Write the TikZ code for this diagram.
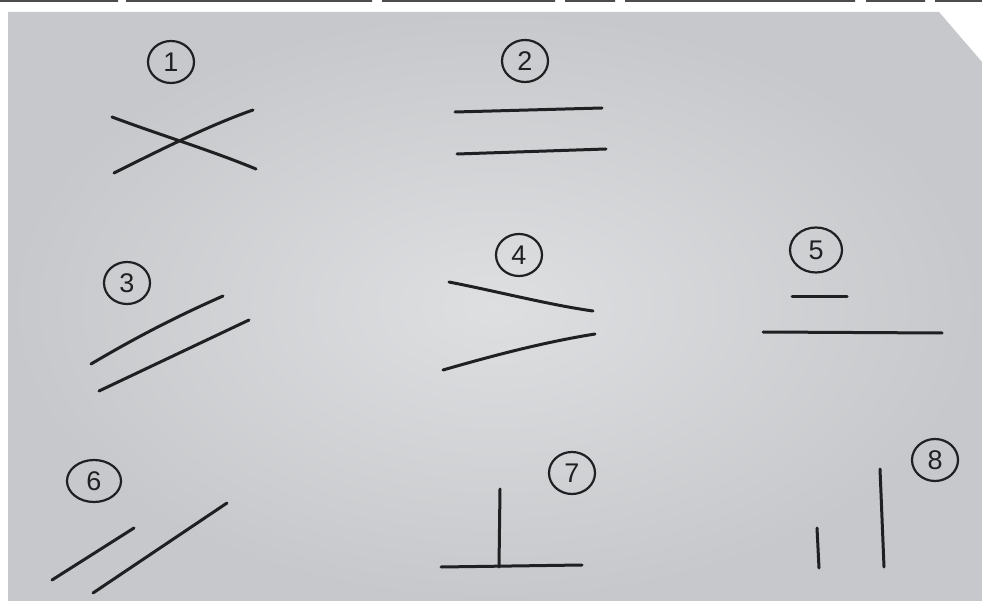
\documentclass[tikz,border=0pt]{standalone}
\usepackage{fontspec}
\setmainfont{Liberation Sans}
\usetikzlibrary{shapes.geometric}
\definecolor{paperin}{RGB}{221,223,225}
\definecolor{paperout}{RGB}{198,200,203}
\definecolor{ink}{RGB}{32,32,34}
\tikzset{
  numcircle/.style={ellipse, draw=ink, line width=2.2pt, minimum width=46pt, minimum height=42pt, inner sep=0pt, text=ink, font=\fontsize{27}{27}\selectfont},
  stroke/.style={draw=ink, line width=3pt, line cap=round}
}
\begin{document}
\begin{tikzpicture}[x=1pt,y=-1pt]
\useasboundingbox (0,0) rectangle (982,601);
\fill[white] (0,0) rectangle (982,601);
\shade[inner color=paperin, outer color=paperout] (8,12) -- (939,12) -- (982,62) -- (982,601) -- (8,601) -- cycle;
% strip of dark marks along the top edge
\fill[ink!80] (0,0) rectangle (118,2) (126,0) rectangle (372,2) (382,0) rectangle (555,2)
  (565,0) rectangle (615,2) (625,0) rectangle (855,2) (866,0) rectangle (925,2) (935,0) rectangle (982,2);
% numbers
\node[numcircle] (n1) at (171,62) {1};
\node[numcircle] (n2) at (525,61) {2};
\node[numcircle] (n3) at (127,283) {3};
\node[numcircle] (n4) at (519,255) {4};
\node[numcircle, minimum width=52pt, minimum height=45pt] (n5) at (816,250) {5};
\node[numcircle, minimum width=54pt, minimum height=42pt] (n6) at (94,481) {6};
\node[numcircle] (n7) at (572,473) {7};
\node[numcircle] (n8) at (935,460) {8};
% 1
\draw[stroke] (112,117) .. controls (160,135) and (210,150) .. (256,169);
\draw[stroke] (114,173) .. controls (160,150) and (210,125) .. (253,110);
% 2
\draw[stroke] (455,112) -- (602,108);
\draw[stroke] (457,154) -- (606,149);
% 3
\draw[stroke] (91,364) .. controls (140,335) and (180,315) .. (223,296);
\draw[stroke] (99,391) -- (249,320);
% 4
\draw[stroke] (449,282) .. controls (500,292) and (550,305) .. (593,311);
\draw[stroke] (443,370) .. controls (495,355) and (545,342) .. (595,334);
% 5
\draw[stroke] (792,297) -- (847,297);
\draw[stroke] (763,332) -- (942,333);
% 6
\draw[stroke] (52,580) -- (134,528);
\draw[stroke] (93,593) -- (227,503);
% 7
\draw[stroke] (500,489) -- (499,567);
\draw[stroke] (441,567) -- (582,565);
% 8
\draw[stroke] (817,528) -- (819,568);
\draw[stroke] (880,469) -- (884,567);
\end{tikzpicture}
\end{document}
